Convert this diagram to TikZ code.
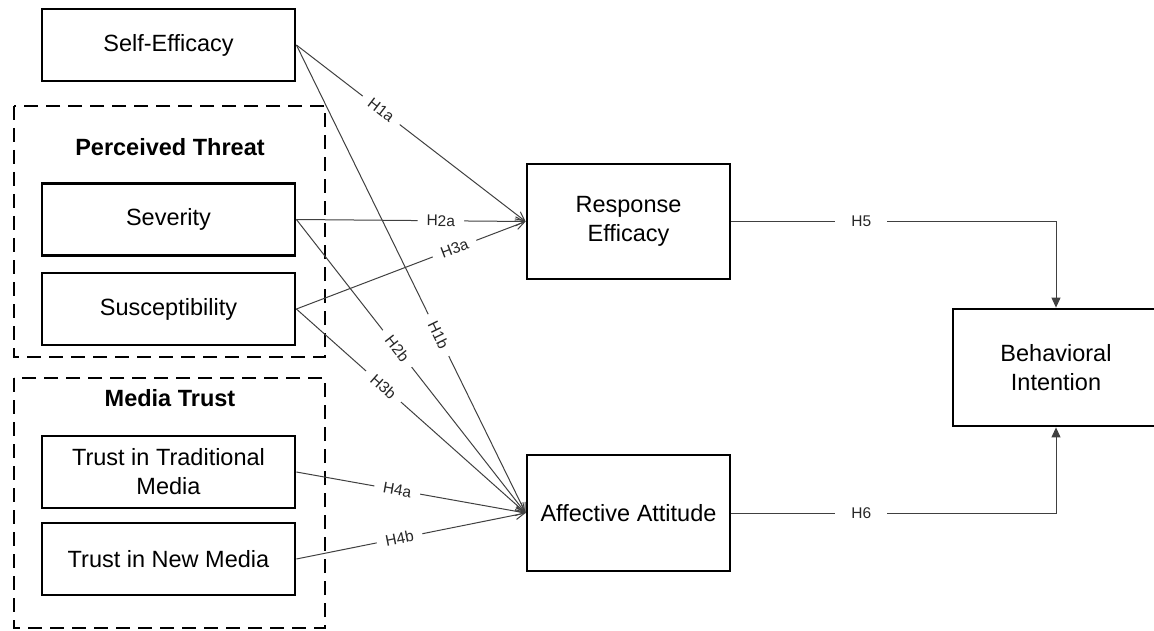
\documentclass[tikz,border=0pt]{standalone}
\usepackage{fontspec}
\setmainfont{Liberation Sans}
\usetikzlibrary{arrows.meta}

\begin{document}
\begin{tikzpicture}[x=1pt,y=-1pt,
    construct/.style={draw, line width=2.8pt, align=center, font=\fontsize{23.5}{29}\selectfont},
    groupbox/.style={draw, line width=2.8pt, dash pattern=on 14pt off 8pt},
    hyp/.style={draw=black!75, line width=1pt, -{Straight Barb[length=9pt,width=9pt]}},
    mainarrow/.style={draw=black!75, line width=1pt, -{Triangle[length=10pt,width=9pt]}},
    lbl/.style={fill=white, inner xsep=9pt, inner ysep=1pt, sloped, text=black!85, font=\fontsize{15.5}{17}\selectfont}]
    \useasboundingbox (0,0) rectangle (1154,631);

    % Dashed groups
    \draw[groupbox] (14,106) rectangle (325,357);
    \draw[groupbox] (14,378) rectangle (325,628);
    \node[font=\bfseries\fontsize{23.5}{27}\selectfont] (pt) at (170,147) {Perceived Threat};
    \node[font=\bfseries\fontsize{23.5}{27}\selectfont] (mt) at (170,398) {Media Trust};

    % Left column
    \node[construct, minimum width=253, minimum height=72] (se) at (168.5,45) {Self-Efficacy};
    \node[construct, minimum width=253, minimum height=72] (sev) at (168.5,219.5) {Severity};
    \node[construct, minimum width=253, minimum height=72] (sus) at (168.5,309) {Susceptibility};
    \node[construct, minimum width=253, minimum height=72] (ttm) at (168.5,472) {Trust in Traditional\\Media};
    \node[construct, minimum width=253, minimum height=72] (tnm) at (168.5,559) {Trust in New Media};

    % Middle and right
    \node[construct, minimum width=203, minimum height=115] (re) at (628.5,221.5) {Response\\Efficacy};
    \node[construct, minimum width=203, minimum height=116] (aa) at (628.5,513) {Affective Attitude};
    \node[construct, minimum width=206, minimum height=117] (bi) at (1056,367.5) {Behavioral\\Intention};

    % Paths to Response Efficacy
    \draw[hyp] (se.east) -- node[lbl, pos=0.37] {H1a} (re.west);
    \draw[hyp] (sev.east) -- node[lbl, pos=0.63] {H2a} (re.west);
    \draw[hyp] (sus.east) -- node[lbl, pos=0.69] {H3a} (re.west);

    % Paths to Affective Attitude
    \draw[hyp] (se.east) -- node[lbl, pos=0.62] {H1b} (aa.west);
    \draw[hyp] (sev.east) -- node[lbl, pos=0.44] {H2b} (aa.west);
    \draw[hyp] (sus.east) -- node[lbl, pos=0.38] {H3b} (aa.west);
    \draw[hyp] (ttm.east) -- node[lbl, pos=0.44] {H4a} (aa.west);
    \draw[hyp] (tnm.east) -- node[lbl, pos=0.45] {H4b} (aa.west);

    % Paths to Behavioral Intention
    \coordinate (c5) at (bi.north |- re.east);
    \coordinate (c6) at (bi.south |- aa.east);
    \draw[mainarrow] (re.east) -- node[lbl, pos=0.4, inner xsep=16pt] {H5} (c5) -- (bi.north);
    \draw[mainarrow] (aa.east) -- node[lbl, pos=0.4, inner xsep=16pt] {H6} (c6) -- (bi.south);
\end{tikzpicture}
\end{document}
